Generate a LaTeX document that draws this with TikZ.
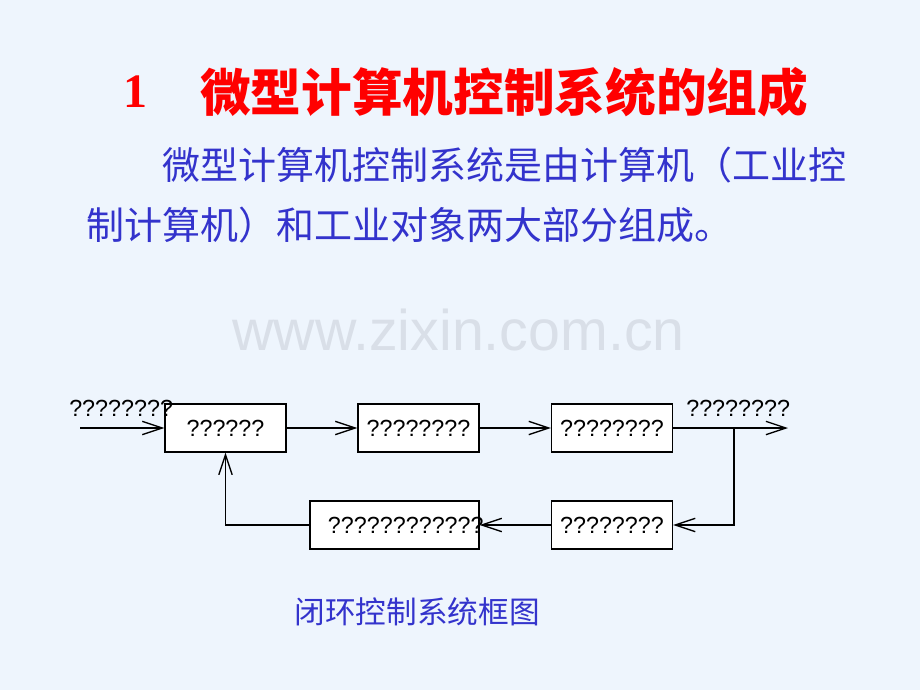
\documentclass[tikz,border=0pt]{standalone}
\usepackage{fontspec}
\setmainfont{Liberation Sans}
\newfontfamily\cjk{Noto Sans CJK SC}
\newfontfamily\numfont{Liberation Serif}
\usetikzlibrary{arrows.meta,positioning}
\definecolor{slidebg}{HTML}{EEF5FD}
\definecolor{titlered}{HTML}{FF0000}
\definecolor{textblue}{HTML}{3333CC}
\definecolor{markgray}{HTML}{D9DFE8}

\begin{document}
\begin{tikzpicture}[x=0.75pt,y=-0.75pt,
    block/.style={draw,fill=white,line width=1pt,inner sep=0pt,
      minimum height=36pt,minimum width=90.75pt,
      font=\fontsize{17.5}{20}\selectfont},
    sig/.style={line width=1pt,-{Straight Barb[length=15pt,width=10pt]}},
    lbl/.style={anchor=west,inner sep=0pt,font=\fontsize{17.5}{20}\selectfont}]
    \pgfmathsetmacro{\yf}{428}
    \pgfmathsetmacro{\yb}{525}

    % Page
    \fill [slidebg] (0,0) rectangle (920,690);
    \useasboundingbox (0,0) rectangle (920,690);

    % Title and text
    \node [titlered,font=\numfont\bfseries\fontsize{36}{40}\selectfont] (num) at (135,92) {1};
    \node [anchor=west,inner sep=0pt,titlered,font=\cjk\bfseries\fontsize{38}{42}\selectfont]
        (title) at (200,92) {微型计算机控制系统的组成};
    \node [anchor=west,inner sep=0pt,textblue,font=\cjk\fontsize{28.5}{32}\selectfont]
        (line1) at (162,165) {微型计算机控制系统是由计算机（工业控};
    \node [anchor=west,inner sep=0pt,textblue,font=\cjk\fontsize{28.5}{32}\selectfont]
        (line2) at (86,225) {制计算机）和工业对象两大部分组成。};
    \node [anchor=west,inner sep=0pt,markgray,font=\fontsize{43}{48}\selectfont]
        (mark) at (232,330) {www.zixin.com.cn};

    % Blocks
    \node [block] (b1) at (225.5,\yf) {??????};
    \node [block] (b2) at (418.5,\yf) {????????};
    \node [block] (b3) at (612,\yf) {????????};
    \node [block] (b5) at (612,\yb) {????????};
    \node [block,minimum width=126.75pt] (b4) at (394.5,\yb)
        {\hspace{10pt}\makebox[109.8pt][l]{????????????}};

    \coordinate (in) at (80,\yf);
    \coordinate (br) at (734,\yf);
    \coordinate (out) at (788,\yf);
    \node [lbl] (inlbl) at (69,408) {????????};
    \node [lbl] (outlbl) at (686,408) {????????};

    % Signals
    \draw [sig] (in) -- (b1);
    \draw [sig] (b1) -- (b2);
    \draw [sig] (b2) -- (b3);
    \draw [sig] (b3) -- (out);
    \draw [sig] (br) |- (b5);
    \draw [sig] (b5) -- (b4);
    \draw [sig] (b4.west) -| (b1.south);

    \node [textblue,font=\cjk\fontsize{23}{26}\selectfont] (cap) at (417,612) {闭环控制系统框图};
\end{tikzpicture}
\end{document}
